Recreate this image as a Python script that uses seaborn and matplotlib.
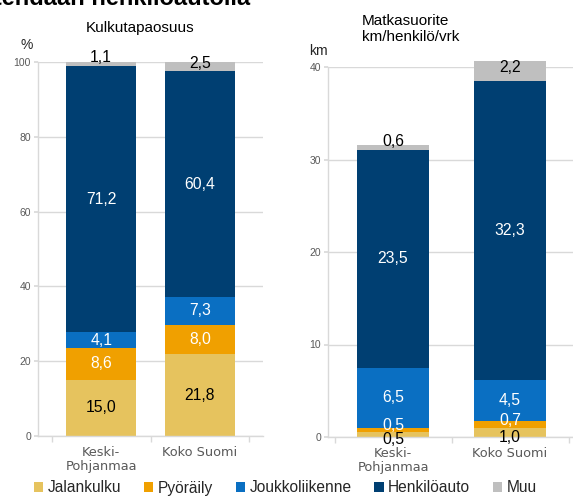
import matplotlib
matplotlib.use("Agg")
import matplotlib.pyplot as plt
from matplotlib.patches import Patch
import seaborn as sns
import numpy as np
import pandas as pd

# --- data ---
regions = ["Keski-\nPohjanmaa", "Koko Suomi"]
modes = ["Jalankulku", "Pyöräily", "Joukkoliikenne", "Henkilöauto", "Muu"]
colors = ["#E6C35E", "#F0A000", "#0A6FC2", "#003F72", "#BFBFBF"]

share_keski = [15.0, 8.6, 4.1, 71.2, 1.1]
share_koko = [21.8, 8.0, 7.3, 60.4, 2.5]
km_keski = [0.5, 0.5, 6.5, 23.5, 0.6]
km_koko = [1.0, 0.7, 4.5, 32.3, 2.2]

left_ticks = [0, 20, 40, 60, 80, 100]
right_ticks = [0, 10, 20, 30, 40]

sns.set_theme(style="white")
plt.rcParams["font.family"] = ["Liberation Sans", "DejaVu Sans"]

GRID = "#D9D9D9"
TICK = "#595959"


def fmt(v):
    return f"{v:.1f}".replace(".", ",")


def stacked(ax, rows, width, ylim, ticks, small=False):
    vals = np.array(rows)  # regions x modes
    cum = vals.cumsum(axis=1)
    # draw from the top segment down so lower totals overlap higher ones
    for j in range(len(modes) - 1, -1, -1):
        df = pd.DataFrame({"region": regions, "value": cum[:, j]})
        sns.barplot(data=df, x="region", y="value", color=colors[j],
                    width=width, saturation=1, linewidth=0, ax=ax, zorder=2)
    for p in ax.patches:
        p.set_clip_on(False)  # the Koko Suomi km bar pokes above 40
    for i in range(len(regions)):
        for j, m in enumerate(modes):
            lo = cum[i, j] - vals[i, j]
            mid = lo + vals[i, j] / 2
            dy = 0
            tc = "white"
            if m == "Jalankulku":
                tc = "black"
                if small:
                    dy = -3.5
            elif m == "Pyöräily" and small:
                dy = 3
            elif m == "Muu":
                tc = "black"
                dy = 4.5 if vals[i, j] < 2 else 2.5
            ax.annotate(fmt(vals[i, j]), (i, mid), xytext=(0, dy),
                        textcoords="offset points", ha="center", va="center",
                        fontsize=11.3, color=tc, zorder=5, annotation_clip=False)
    ax.set_ylim(*ylim)
    ax.set_yticks(ticks)
    ax.yaxis.grid(True, color=GRID, linewidth=1, zorder=0)
    ax.set_axisbelow(True)
    for s in ["top", "right"]:
        ax.spines[s].set_visible(False)
    for s in ["left", "bottom"]:
        ax.spines[s].set_color(GRID)
        ax.spines[s].set_linewidth(1)
    ax.set_xlabel("")
    ax.set_ylabel("")
    ax.tick_params(axis="y", labelsize=7.5, labelcolor=TICK, length=3,
                   color=GRID, left=True, pad=2)
    ax.tick_params(axis="x", length=0, pad=7)
    ax.set_xticks([-0.5, 0.5, 1.5], minor=True)
    ax.tick_params(axis="x", which="minor", bottom=True, length=4, color=GRID)
    for lab in ax.get_xticklabels():
        lab.set_family("DejaVu Sans")
        lab.set_fontsize(9.3)
        lab.set_color(TICK)
        lab.set_linespacing(1.1)


fig = plt.figure(figsize=(5.73, 4.96), dpi=100)
W, H = 573, 496

ax1 = fig.add_axes([38 / W, 1 - 436 / H, 225 / W, 374 / H])
stacked(ax1, [share_keski, share_koko], 0.71, (0, 100), left_ticks)
ax1.set_xlim(-0.64, 1.64)

ax2 = fig.add_axes([328 / W, 1 - 437 / H, 245 / W, 370 / H])
stacked(ax2, [km_keski, km_koko], 0.62, (0, 40), right_ticks, small=True)
ax2.set_xlim(-0.556, 1.538)

# titles and units
fig.text(140 / W, 1 - 28 / H, "Kulkutapaosuus", ha="center", va="center",
         fontsize=11, color="black")
fig.text(362 / W, 1 - 29 / H, "Matkasuorite\nkm/henkilö/vrk", ha="left",
         va="center", fontsize=11, color="black", linespacing=1.2)
fig.text(27 / W, 1 - 45 / H, "%", ha="center", va="center", fontsize=10)
fig.text(318 / W, 1 - 51 / H, "km", ha="center", va="center", fontsize=10)

# main heading, cut off by the top edge of the picture
fig.text(250 / W, 1 - 5 / H, "Matkoista tehdään henkilöautolla", ha="right",
         va="baseline", fontsize=17, fontweight="bold", color="black")

handles = [Patch(facecolor=c, edgecolor="none") for c in colors]
fig.legend(handles, modes, loc="center", bbox_to_anchor=(0.498, 1 - 488 / H),
           ncol=5, frameon=False, fontsize=11.2, handlelength=0.6,
           handleheight=0.6, handletextpad=0.3, columnspacing=1.45,
           borderpad=0, borderaxespad=0)

fig.savefig("out.png", dpi=100)
